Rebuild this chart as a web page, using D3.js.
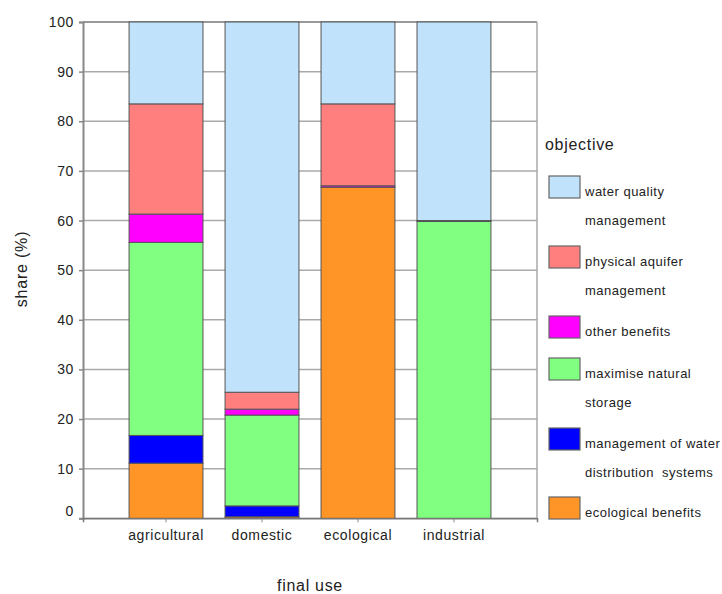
<!DOCTYPE html>
<html><head><meta charset="utf-8">
<script src="https://cdn.jsdelivr.net/npm/d3@7"></script>
<style>body{margin:0;background:#fff;} text{font-family:"Liberation Sans",Arial,sans-serif;fill:#222;}</style>
</head><body><svg id="c" width="722" height="594"></svg>
<script>
const categories = ["agricultural","domestic","ecological","industrial"];
const objectives = ["ecological benefits","management of water distribution systems","maximise natural storage","other benefits","physical aquifer management","water quality management"];
const ecologicalBenefits = [11.1, 0.3, 66.7, 0];
const waterDistribution = [5.6, 2.2, 0, 0];
const naturalStorage = [38.9, 18.3, 0, 59.8];
const otherBenefits = [5.7, 1.2, 0.3, 0.2];
const aquiferManagement = [22.2, 3.4, 16.5, 0];
const waterQuality = [16.5, 74.6, 16.5, 40.0];
const yTicks = [0,10,20,30,40,50,60,70,80,90,100];
const legendLabels = [
  ["water quality","management"],
  ["physical aquifer","management"],
  ["other benefits"],
  ["maximise natural","storage"],
  ["management of water","distribution  systems"],
  ["ecological benefits"]
];
const legendKeys = ["water quality management","physical aquifer management","other benefits","maximise natural storage","management of water distribution systems","ecological benefits"];
const colors = ["#ff9526","#0000ff","#80ff80","#ff00ff","#ff7f7f","#c0e2fb"];

const series = [ecologicalBenefits, waterDistribution, naturalStorage, otherBenefits, aquiferManagement, waterQuality];
const rows = categories.map((c,i)=>{const r={cat:c}; objectives.forEach((o,j)=>r[o]=series[j][i]); return r;});
const stacked = d3.stack().keys(objectives)(rows);
const color = d3.scaleOrdinal().domain(objectives).range(colors);

const svg = d3.select("#c");
const L=83,R=537,T=22,B=518.3;
const x = d3.scaleBand().domain(categories).range([L,R]).paddingInner(0.23).paddingOuter(0.48);
const y = d3.scaleLinear().domain([0,100]).range([B,T]);

// gridlines
svg.append("g").selectAll("line").data(yTicks).join("line")
  .attr("x1",L).attr("x2",R).attr("y1",d=>y(d)).attr("y2",d=>y(d))
  .attr("stroke",d=>d===100?"#777":"#aaa").attr("stroke-width",1.5);
svg.append("line").attr("x1",R).attr("x2",R).attr("y1",T).attr("y2",B).attr("stroke","#aaa").attr("stroke-width",1.5);

// bars
svg.append("g").selectAll("g").data(stacked).join("g").attr("fill",d=>color(d.key))
  .selectAll("rect").data(d=>d.filter(p=>p[1]-p[0]>0)).join("rect")
  .attr("x",d=>x(d.data.cat)).attr("width",x.bandwidth())
  .attr("y",d=>y(d[1])).attr("height",d=>y(d[0])-y(d[1]))
  .attr("stroke","#555").attr("stroke-width",1);

// y axis
const ya = svg.append("g").attr("transform",`translate(${L},0)`)
  .call(d3.axisLeft(y).tickValues(yTicks).tickSize(4).tickPadding(5));
ya.select(".domain").attr("stroke","#888").attr("stroke-width",2);
ya.selectAll(".tick line").attr("stroke","#888").attr("stroke-width",1.5);
ya.selectAll("text").style("font-size","14px").style("letter-spacing","0.6px").attr("fill","#333")
  .attr("dy",d=>d===0?"-0.2em":"0.32em");
ya.attr("font-family",null);

// x axis
const xa = svg.append("g").attr("transform",`translate(0,${B})`)
  .call(d3.axisBottom(x).tickSize(4).tickPadding(8));
xa.select(".domain").attr("stroke","#777").attr("stroke-width",1.5);
xa.selectAll(".tick line").attr("stroke","#888");
xa.selectAll("text").style("font-size","14px").style("letter-spacing","0.6px").attr("fill","#333");
xa.attr("font-family",null);

// titles
svg.append("text").attr("x",310).attr("y",591).attr("text-anchor","middle")
  .style("font-size","16px").style("letter-spacing","0.7px").text("final use");
svg.append("text").attr("transform","translate(27,269) rotate(-90)").attr("text-anchor","middle")
  .style("font-size","16px").style("letter-spacing","0.8px").text("share (%)");

// legend
const lg = svg.append("g");
lg.append("text").attr("x",545).attr("y",150).style("font-size","16px").style("letter-spacing","0.7px").text("objective");
const tops = [176,246,316,358,428,497];
legendKeys.forEach((k,i)=>{
  lg.append("rect").attr("x",549).attr("y",tops[i]).attr("width",31).attr("height",22)
    .attr("fill",color(k)).attr("stroke","#666").attr("stroke-width",1.2);
  legendLabels[i].forEach((t,j)=>{
    lg.append("text").attr("x",585).attr("y",tops[i]+20+j*28.5)
      .style("font-size","13px").style("letter-spacing","0.5px").style("white-space","pre").text(t);
  });
});
</script></body></html>
